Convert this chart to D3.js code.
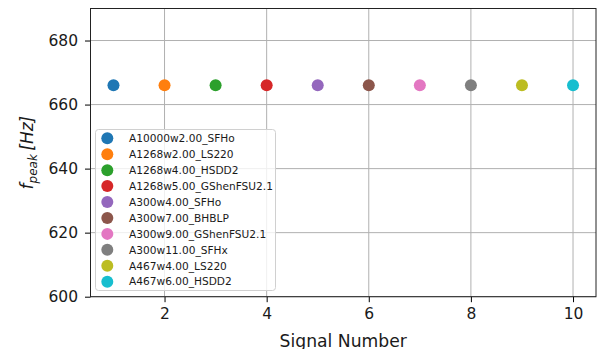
<!DOCTYPE html>
<html>
<head>
<meta charset="utf-8">
<script src="https://cdn.jsdelivr.net/npm/d3@7"></script>
<style>
  html, body { margin: 0; padding: 0; background: #fff; }
  svg { display: block; font-family: "DejaVu Sans", sans-serif; }
</style>
</head>
<body>
<svg id="chart" width="600" height="349"></svg>
<script>
// Peak frequency for each simulated signal
const signals = [1, 2, 3, 4, 5, 6, 7, 8, 9, 10];
const fpeak = [666, 666, 666, 666, 666, 666, 666, 666, 666, 666];
const names = [
  "A10000w2.00_SFHo",
  "A1268w2.00_LS220",
  "A1268w4.00_HSDD2",
  "A1268w5.00_GShenFSU2.1",
  "A300w4.00_SFHo",
  "A300w7.00_BHBLP",
  "A300w9.00_GShenFSU2.1",
  "A300w11.00_SFHx",
  "A467w4.00_LS220",
  "A467w6.00_HSDD2"
];
const colors = ["#1f77b4", "#ff7f0e", "#2ca02c", "#d62728", "#9467bd",
                "#8c564b", "#e377c2", "#7f7f7f", "#bcbd22", "#17becf"];
const xTicks = [2, 4, 6, 8, 10];
const yTicks = [600, 620, 640, 660, 680];
const xDomain = [0.55, 10.45];
const yDomain = [600, 690];

const svg = d3.select("#chart");
const plot = { left: 90.5, right: 596, top: 8.5, bottom: 296.7 };

const x = d3.scaleLinear().domain(xDomain).range([plot.left, plot.right]);
const y = d3.scaleLinear().domain(yDomain).range([plot.bottom, plot.top]);

// grid
const grid = svg.append("g").attr("stroke", "#b0b0b0").attr("stroke-width", 1);
grid.selectAll("line.gx").data(xTicks).join("line")
  .attr("x1", d => x(d)).attr("x2", d => x(d))
  .attr("y1", plot.top).attr("y2", plot.bottom);
grid.selectAll("line.gy").data(yTicks).join("line")
  .attr("x1", plot.left).attr("x2", plot.right)
  .attr("y1", d => y(d)).attr("y2", d => y(d));

// axes
const xAxis = d3.axisBottom(x).tickValues(xTicks).tickSize(5.5).tickPadding(6).tickFormat(d3.format("d"));
const yAxis = d3.axisLeft(y).tickValues(yTicks).tickSize(5.5).tickPadding(7).tickFormat(d3.format("d"));

const gx = svg.append("g").attr("transform", `translate(0,${plot.bottom})`).call(xAxis);
const gy = svg.append("g").attr("transform", `translate(${plot.left},0)`).call(yAxis);
[gx, gy].forEach(g => {
  g.select(".domain").remove();
  g.selectAll(".tick line").attr("stroke", "#000").attr("stroke-width", 1);
  g.selectAll(".tick text").attr("fill", "#1a1a1a").style("font-size", "15.5px")
    .style("font-family", "'DejaVu Sans', sans-serif");
});

// frame
svg.append("rect")
  .attr("x", plot.left).attr("y", plot.top)
  .attr("width", plot.right - plot.left).attr("height", plot.bottom - plot.top)
  .attr("fill", "none").attr("stroke", "#222").attr("stroke-width", 1);

// points
svg.append("g").selectAll("circle").data(signals).join("circle")
  .attr("cx", (d, i) => x(d)).attr("cy", (d, i) => y(fpeak[i]))
  .attr("r", 6).attr("fill", (d, i) => colors[i]);

// axis labels
svg.append("text")
  .attr("x", (plot.left + plot.right) / 2).attr("y", 346.5)
  .attr("text-anchor", "middle").attr("fill", "#1a1a1a")
  .style("font-size", "17.2px").text("Signal Number");

const yl = svg.append("text")
  .attr("transform", `translate(33,${(plot.top + plot.bottom) / 2}) rotate(-90)`)
  .attr("text-anchor", "middle").attr("fill", "#1a1a1a")
  .style("font-size", "17px").style("font-style", "italic");
yl.append("tspan").text("f");
yl.append("tspan").attr("dy", 4).style("font-size", "12px").text("peak");
yl.append("tspan").attr("dy", -4).text("\u2009[Hz]");

// legend
const leg = svg.append("g");
leg.append("rect")
  .attr("x", 95.5).attr("y", 129.5).attr("width", 180).attr("height", 161)
  .attr("rx", 3).attr("fill", "#fff").attr("fill-opacity", 0.8)
  .attr("stroke", "#d0d0d0").attr("stroke-width", 1);
const rows = leg.selectAll("g.row").data(names).join("g")
  .attr("transform", (d, i) => `translate(0,${138.3 + i * 15.93})`);
rows.append("circle").attr("cx", 107.3).attr("cy", 0).attr("r", 6)
  .attr("fill", (d, i) => colors[i]);
rows.append("text").attr("x", 129).attr("y", 0).attr("dy", "0.36em")
  .attr("fill", "#1a1a1a").style("font-size", "10.6px").text(d => d);
</script>
</body>
</html>
